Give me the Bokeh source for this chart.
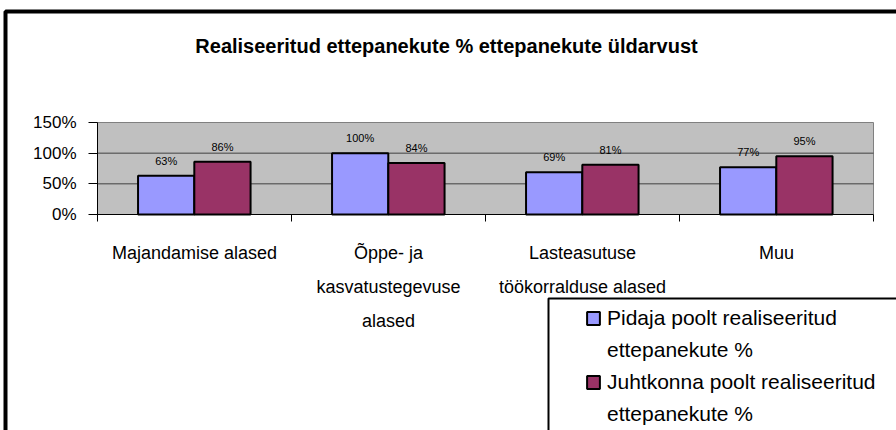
import numpy as np
from bokeh.plotting import figure
from bokeh.models import (Range1d, FixedTicker, PrintfTickFormatter, ColumnDataSource,
                          LabelSet, Label, Legend, LegendItem, BoxAnnotation)
from bokeh.core.properties import value
from bokeh.embed import file_html
from bokeh.resources import INLINE

# ---- data ----
title_text = "Realiseeritud ettepanekute % ettepanekute üldarvust"
categories = ["Majandamise alased",
              "Õppe- ja\nkasvatustegevuse\nalased",
              "Lasteasutuse\ntöökorralduse alased",
              "Muu"]
series_names = [["Pidaja poolt realiseeritud", "ettepanekute %"],
                ["Juhtkonna poolt realiseeritud", "ettepanekute %"]]
pidaja = [63, 100, 69, 77]
juhtkond = [86, 84, 81, 95]
y_ticks = [0, 50, 100, 150]
grid_values = [50, 100]
colors = ["#9999FF", "#993366"]

FONT = "Liberation Sans"
W, H = 896, 430
FL, FR, FT, FB = 97, 873, 122, 214   # plot-area edges in canvas pixels
n = len(categories)
ymax = y_ticks[-1]
ppx = (FR - FL) / n            # pixels per category
ppy = (FB - FT) / ymax         # pixels per percent

p = figure(width=W, height=H,
           x_range=Range1d(-FL / ppx, n + (W - FR) / ppx),
           y_range=Range1d(-(H - FB) / ppy, ymax + FT / ppy),
           output_backend="svg", toolbar_location=None,
           min_border=0, min_border_left=0, min_border_right=0,
           min_border_top=0, min_border_bottom=0,
           background_fill_color="white", border_fill_color="white",
           outline_line_color=None)
p.xgrid.visible = False
p.ygrid.visible = False

# gray plot area
p.add_layout(BoxAnnotation(left=0, right=n, bottom=0, top=ymax, level="underlay",
                           fill_color="#C0C0C0", fill_alpha=1,
                           line_color="#808080", line_alpha=1, line_width=1))

# horizontal gridlines
p.segment(x0=[0] * len(grid_values), x1=[n] * len(grid_values), y0=grid_values, y1=grid_values,
          line_color="#404040", line_width=1)

idx = np.arange(n)
bw = 0.29
src = ColumnDataSource(dict(
    x1=idx + 0.5 - 0.146, x2=idx + 0.5 + 0.144,
    a=pidaja, b=juhtkond,
    la=[f"{v}%" for v in pidaja], lb=[f"{v}%" for v in juhtkond]))

r1 = p.vbar(x="x1", top="a", width=bw, source=src, fill_color=colors[0],
            line_color="black", line_width=2)
r2 = p.vbar(x="x2", top="b", width=bw, source=src, fill_color=colors[1],
            line_color="black", line_width=2)

for xcol, ycol, tcol in [("x1", "a", "la"), ("x2", "b", "lb")]:
    p.add_layout(LabelSet(x=xcol, y=ycol, text=tcol, source=src, y_offset=15,
                          text_align="center", text_baseline="middle",
                          text_font_size=value("11px"), text_font=value(FONT),
                          text_color="black"))

# x axis (drawn at y = 0)
p.xaxis.fixed_location = 0
p.xaxis.bounds = (0, n)
p.xaxis.ticker = FixedTicker(ticks=list(idx + 0.5), minor_ticks=list(range(n + 1)))
p.xaxis.major_label_overrides = {float(i + 0.5): c for i, c in enumerate(categories)}
p.xaxis.major_tick_in = 0
p.xaxis.major_tick_out = 0
p.xaxis.minor_tick_in = 0
p.xaxis.minor_tick_out = 7
p.xaxis.minor_tick_line_color = "black"
p.xaxis.axis_line_color = "black"
p.xaxis.major_label_text_font = FONT
p.xaxis.major_label_text_font_size = "18px"
p.xaxis.major_label_text_line_height = 1.7
p.xaxis.major_label_text_color = "black"
p.xaxis.major_label_standoff = 21

# y axis (drawn at x = 0)
p.yaxis.fixed_location = 0
p.yaxis.bounds = (0, ymax)
p.yaxis.ticker = FixedTicker(ticks=y_ticks)
p.yaxis.formatter = PrintfTickFormatter(format="%d%%")
p.yaxis.major_tick_in = 0
p.yaxis.major_tick_out = 9
p.yaxis.minor_tick_out = 0
p.yaxis.minor_tick_in = 0
p.yaxis.axis_line_color = "black"
p.yaxis.major_tick_line_color = "black"
p.yaxis.major_label_text_font = FONT
p.yaxis.major_label_text_font_size = "17px"
p.yaxis.major_label_text_color = "black"
p.yaxis.major_label_standoff = 12

# outer chart border
p.add_layout(BoxAnnotation(left=5, top=11, right=W + 20, bottom=H + 20,
                           left_units="canvas", right_units="canvas",
                           top_units="canvas", bottom_units="canvas",
                           fill_alpha=0, line_color="black", line_alpha=1, line_width=4))

# title
p.add_layout(Label(x=446, y=45, x_units="canvas", y_units="canvas", text=title_text,
                   text_align="center", text_baseline="middle", text_font=FONT,
                   text_font_size="20px", text_font_style="bold", text_color="black"))

# legend box
p.add_layout(BoxAnnotation(left=548, top=298, right=W + 20, bottom=H + 20,
                           left_units="canvas", right_units="canvas",
                           top_units="canvas", bottom_units="canvas",
                           fill_alpha=0, line_color="black", line_alpha=1, line_width=2))

items = []
for r, lines in zip([r1, r2], series_names):
    items.append(LegendItem(label=lines[0], renderers=[r]))
    for extra in lines[1:]:
        items.append(LegendItem(label=extra, renderers=[]))

legend = Legend(items=items, location=(585, 0), padding=0, spacing=0, margin=0,
                border_line_alpha=0, background_fill_alpha=0,
                glyph_width=16, glyph_height=16, label_standoff=6,
                label_height=32,
                label_text_font=FONT, label_text_font_size="21px",
                label_text_color="black")
p.add_layout(legend, "center")

open("out.html", "w").write(file_html(p, INLINE))
